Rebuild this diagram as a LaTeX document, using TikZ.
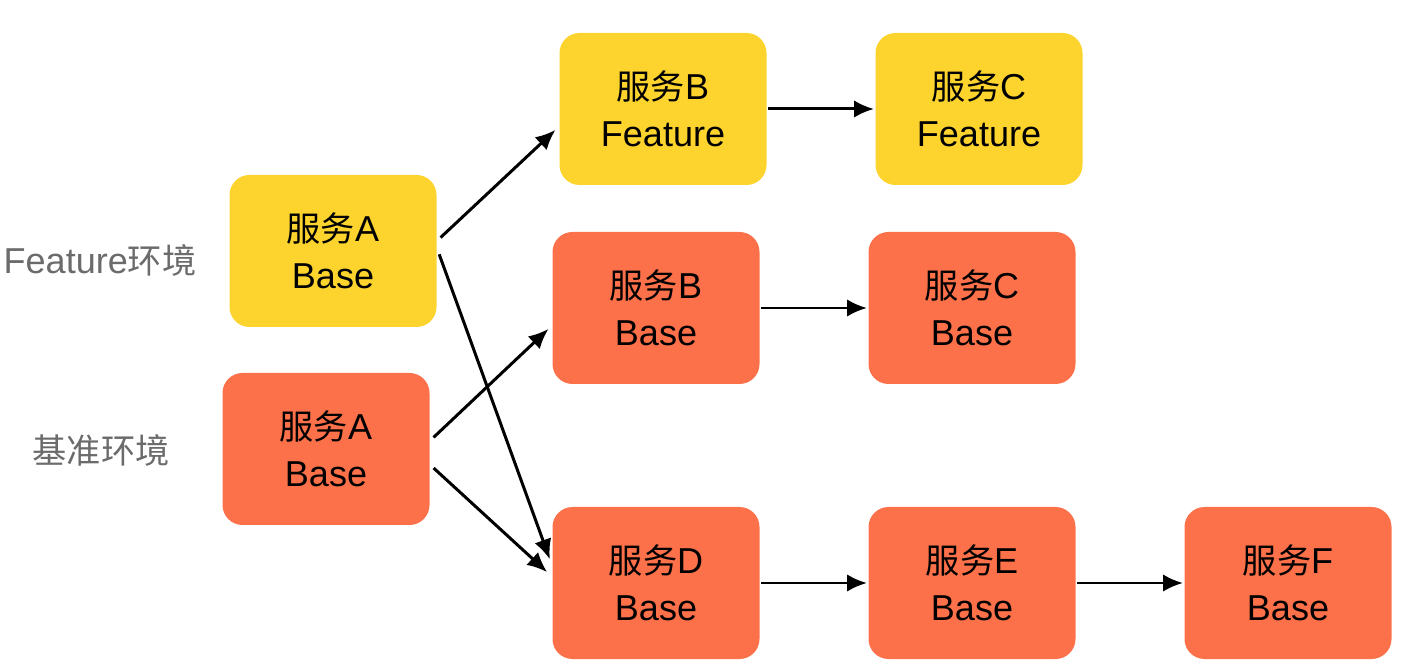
\documentclass[tikz,border=0pt]{standalone}
\usepackage{fontspec}
\setmainfont{Liberation Sans}
\newfontfamily\cjk[Scale=0.95]{Noto Sans CJK SC}
\usetikzlibrary{arrows.meta}
\definecolor{featyellow}{HTML}{FDD42E}
\definecolor{baseorange}{HTML}{FD714A}
\definecolor{envgray}{HTML}{6B6B6B}
\begin{document}
\begin{tikzpicture}[line width=1.7pt,>={Latex[length=4mm,width=3.5mm]},
  svc node/.style={rectangle,rounded corners=0.4cm,minimum width=4.14cm,minimum height=3.04cm,inner sep=0pt,align=center,font=\fontsize{20.5}{26.7}\selectfont},
  feat node/.style={svc node,fill=featyellow},
  base node/.style={svc node,fill=baseorange},
  env node/.style={text=envgray,font=\fontsize{20.5}{26.7}\selectfont}]

                    \useasboundingbox (0,0) rectangle (28.04,13.28);

                    \node[env node] at (2.0, 8.08) (fenv) {Feature{\cjk 环境}};
                    \node[env node] at (2.02, 4.28) (benv) {{\cjk 基准环境}};

                    \node[feat node] at (6.66, 8.26) (af) {{\cjk 服务}A\\Base};
                    \node[base node] at (6.52, 4.30) (ab) {{\cjk 服务}A\\Base};
                    \node[feat node] at (13.26, 11.10) (bf) {{\cjk 服务}B\\Feature};
                    \node[feat node] at (19.58, 11.10) (cf) {{\cjk 服务}C\\Feature};
                    \node[base node] at (13.12, 7.12) (bb) {{\cjk 服务}B\\Base};
                    \node[base node] at (19.44, 7.12) (cb) {{\cjk 服务}C\\Base};
                    \node[base node] at (13.12, 1.62) (db) {{\cjk 服务}D\\Base};
                    \node[base node] at (19.44, 1.62) (eb) {{\cjk 服务}E\\Base};
                    \node[base node] at (25.76, 1.62) (fb) {{\cjk 服务}F\\Base};

                    \path[->] (af.6) edge[shorten <=2pt, shorten >=2pt] (bf.190);
                    \path[->] (af.east) edge[shorten <=2pt, shorten >=2pt] (db.169);
                    \path[->] (ab.5) edge[shorten <=2pt, shorten >=2pt] (bb.190);
                    \path[->] (ab.351) edge[shorten <=2pt, shorten >=3pt] (db.176);
                    \path[->] (bf) edge (cf);
                    \path[->] (bb) edge (cb);
                    \path[->] (db) edge (eb);
                    \path[->] (eb) edge (fb);
                \end{tikzpicture}
\end{document}
